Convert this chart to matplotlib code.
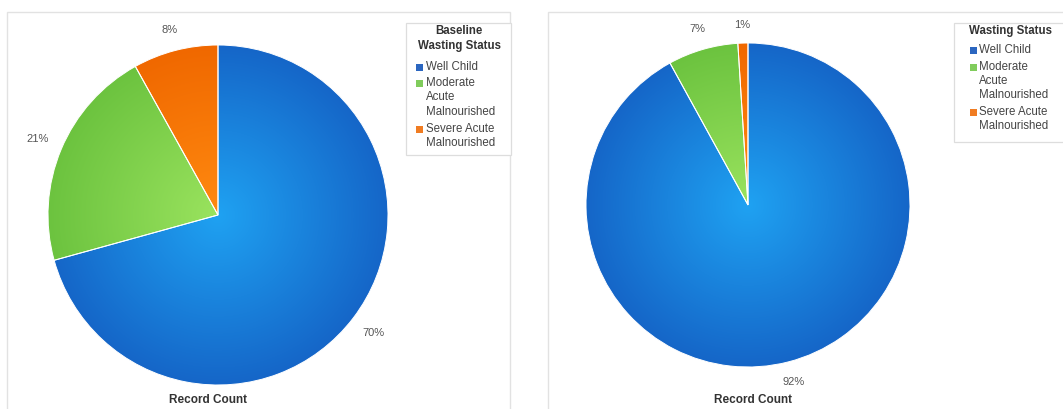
import numpy as np
import matplotlib
matplotlib.use("Agg")
import matplotlib.pyplot as plt
from matplotlib.patches import Rectangle
from matplotlib.colors import to_rgb

plt.rcParams['font.family'] = ['Liberation Sans', 'DejaVu Sans']

# Data
categories = ["Well Child", "Moderate\nAcute\nMalnourished", "Severe Acute\nMalnourished"]
baseline_pct = [70, 21, 8]
followup_pct = [92, 7, 1]
baseline_title = "Baseline\nWasting Status"
followup_title = "Wasting Status"
value_label = "Record Count"

# Radial gradient (centre colour, rim colour) for each category
grad_colors = [("#1fa2f2", "#1566c8"), ("#9ae35e", "#6cc33f"), ("#ff8a10", "#f06800")]
legend_colors = ["#2b66c0", "#80cc5c", "#f07c22"]

W, H = 1063, 409
fig = plt.figure(figsize=(W / 100, H / 100), dpi=100)
ax = fig.add_axes([0, 0, 1, 1])
ax.set_xlim(0, W)
ax.set_ylim(0, H)
ax.set_aspect('equal')
ax.axis('off')


def py(y):
    """Top-down pixel row to axis coordinate."""
    return H - y


# panel frames
for x0, x1 in [(7, 510), (548, 1075)]:
    ax.add_patch(Rectangle((x0, -5), x1 - x0, H - 12 + 5, fill=False,
                           edgecolor="#e2e2e2", lw=1.0, zorder=0, clip_on=False))


def gradient_pie(values, cx, cy, r, label_x):
    cy = py(cy)
    wedges, _ = ax.pie(values, center=(cx, cy), radius=r, startangle=90,
                       counterclock=False, frame=True,
                       wedgeprops=dict(edgecolor="white", linewidth=0.7, zorder=3))
    # percentage labels just outside the rim, pushed out by half the text box
    for w, v in zip(wedges, values):
        ang = np.deg2rad((w.theta1 + w.theta2) / 2)
        c, s = np.cos(ang), np.sin(ang)
        d = r * 1.08 + 11 * abs(c) + 5 * abs(s)
        ax.text(cx + d * c, cy + d * s, f"{v}%", ha='center', va='center',
                fontsize=8, color="#555555")
    n = 300
    yy, xx = np.mgrid[-1:1:n * 1j, -1:1:n * 1j]
    rr = np.clip(np.sqrt(xx ** 2 + yy ** 2), 0, 1)[..., None]
    for w, (c0, c1) in zip(wedges, grad_colors):
        a, b = np.array(to_rgb(c0)), np.array(to_rgb(c1))
        img = a * (1 - rr) + b * rr
        im = ax.imshow(img, extent=(cx - r, cx + r, cy - r, cy + r),
                       origin='lower', zorder=2, interpolation='bilinear')
        im.set_clip_path(w)
        w.set_facecolor('none')
    ax.text(label_x, py(400), value_label, ha='center', va='center', fontsize=8.5,
            fontweight='bold', color="#333333")


def legend_box(x0, y0, x1, y1, title, title_x, title_ha, title_rows,
               sq_x, text_x, rows):
    ax.add_patch(Rectangle((x0, py(y1)), x1 - x0, y1 - y0, facecolor="white",
                           edgecolor="#dddddd", lw=0.9, zorder=5, clip_on=False))
    for line, ty in zip(title.split("\n"), title_rows):
        ax.text(title_x, py(ty), line, ha=title_ha, va='center', fontsize=8.3,
                fontweight='bold', color="#333333", zorder=6)
    for cat, col, ys in zip(categories, legend_colors, rows):
        ax.add_patch(Rectangle((sq_x, py(ys[0]) - 3.5), 7, 7, facecolor=col,
                               edgecolor='none', zorder=6, clip_on=False))
        for line, ty in zip(cat.split("\n"), ys):
            ax.text(text_x, py(ty), line, ha='left', va='center', fontsize=8.3,
                    color="#444444", zorder=6)


gradient_pie(baseline_pct, 218, 215, 170, 208)
gradient_pie(followup_pct, 748, 205, 162, 753)
ax.set_xlim(0, W)
ax.set_ylim(0, H)

legend_box(406, 23, 511, 155, baseline_title, 459, 'center', [31, 46],
           416, 426, [[67], [83, 97, 112], [129, 143]])
legend_box(954, 23, 1075, 142, followup_title, 969, 'left', [31],
           970, 979, [[50], [67, 81, 95], [112, 126]])

fig.savefig("out.png", dpi=100, facecolor="white")
